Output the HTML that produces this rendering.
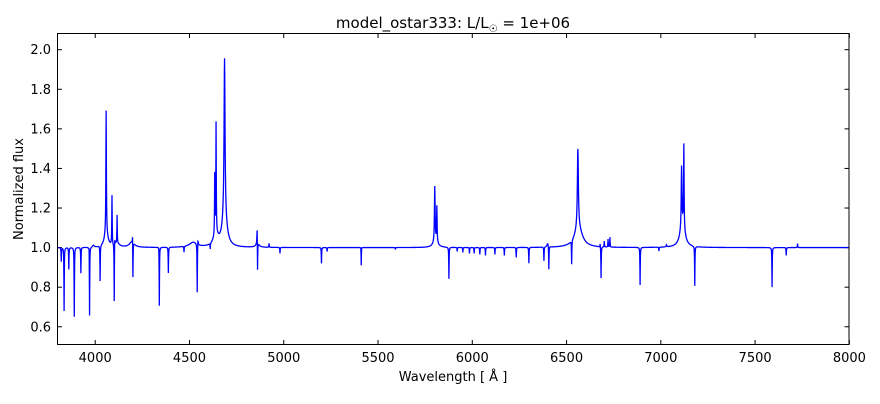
<!DOCTYPE html>
<html><head><meta charset="utf-8"><style>
body{margin:0;background:#fff;width:880px;height:400px;overflow:hidden;font-family:"DejaVu Sans",sans-serif}
</style></head><body>
<svg id="s" width="880" height="400" xmlns="http://www.w3.org/2000/svg" font-family="DejaVu Sans, sans-serif">
<rect width="880" height="400" fill="#fff"/>
<text x="453" y="28" font-size="15" text-anchor="middle">model_ostar333: L/L<tspan font-size="10" dy="4">☉</tspan><tspan dy="-4"> = 1e+06</tspan></text>
<text x="453" y="381" font-size="13" text-anchor="middle">Wavelength [ Å ]</text>
<text transform="translate(23,189) rotate(-90)" font-size="13" text-anchor="middle">Normalized flux</text>
<g id="ticks" font-size="13" fill="#000"></g>
<path id="spec" fill="none" stroke="#0000ff" stroke-width="1.3"/>
<rect x="57.5" y="33.5" width="791.5" height="311" fill="none" stroke="#000" stroke-width="1"/>
</svg>
<script>
var X=function(l){return 57.5+(l-3800)*0.18854;};
var Y=function(f){return 247.6-(f-1)*197.9;};
var g=document.getElementById('ticks'),h='';
for(var l=4000;l<=8000;l+=500){var x=X(l);h+='<line x1="'+x+'" x2="'+x+'" y1="344.5" y2="340" stroke="#000"/><line x1="'+x+'" x2="'+x+'" y1="33.5" y2="38" stroke="#000"/><text x="'+x+'" y="362" text-anchor="middle">'+l+'</text>';}
for(var i=0;i<8;i++){var f=0.6+i*0.2,y=Y(f);h+='<line x1="57.5" x2="62" y1="'+y+'" y2="'+y+'" stroke="#000"/><line x1="849" x2="844.5" y1="'+y+'" y2="'+y+'" stroke="#000"/><text x="51" y="'+(y+4.5)+'" text-anchor="end">'+f.toFixed(1)+'</text>';}
g.innerHTML=h;
var L=[[3820,-0.07,1],[3835,-0.32,1],[3860,-0.11,1],[3889,-0.35,1],[3924,-0.13,1],[3968,0.04,1.5],[3970,-0.36,1],[3990,0.01,5],
[4026,-0.18,1],[4058,0.62,1.5],[4058,0.07,12],[4089,0.25,1.2],[4101,-0.32,1],[4103,0.06,2],[4116,0.14,1],[4116,0.02,15],[4198,0.06,1],[4195,0.03,15],[4200,-0.19,1],
[4338,0.03,2],[4340,-0.31,1],[4388,-0.13,1],[4471,-0.03,1],[4520,0.025,25],[4541,-0.25,1],[4545,0.03,2],[4610,-0.03,1],[4634,0.3,1.2],[4641,0.55,1.2],[4640,0.06,15],[4686,0.8,3],[4686,0.15,15],
[4859,0.1,1.5],[4861,-0.17,1],[4861,0.02,10],[4922,0.02,1],[4980,-0.03,1],[5200,-0.08,1],[5230,-0.02,1],[5411,0.06,1.5],[5411,-0.15,1],[5592,-0.01,1],
[5801,0.28,2],[5812,0.18,1.5],[5805,0.03,15],[5876,-0.16,1],[5920,-0.02,1],[5950,-0.025,1],[5985,-0.03,1],[6010,-0.03,1],[6040,-0.035,1],[6070,-0.04,1],[6120,-0.035,1],[6170,-0.04,1],[6233,-0.05,1],[6300,-0.08,1],[6380,-0.07,1],[6406,-0.12,1],[6400,0.02,5],
[6527,-0.12,1],[6560,0.42,3],[6563,0.1,25],[6560,-0.02,1],[6683,-0.16,1],[6678,0.02,1],[6700,0.03,1],[6720,0.04,1],[6730,0.05,1],[6890,-0.19,1],[6990,-0.02,1],[7030,0.01,2],
[7110,0.3,2],[7122,0.42,1.5],[7115,0.12,15],[7180,-0.2,1],[7590,-0.2,1],[7665,-0.04,1],[7725,0.02,1]];
var pts=[];for(var l=3800;l<=8000;l+=1)pts.push(l);
L.forEach(function(a){pts.push(a[0]);});pts.sort(function(a,b){return a-b;});
var d='';
pts.forEach(function(l,i){var f=1;L.forEach(function(a){var dl=l-a[0];f+=a[1]*a[2]*a[2]/(dl*dl+a[2]*a[2]);});
d+=(i?'L':'M')+X(l).toFixed(2)+' '+Y(f).toFixed(2);});
document.getElementById('spec').setAttribute('d',d);
</script>
</body></html>
